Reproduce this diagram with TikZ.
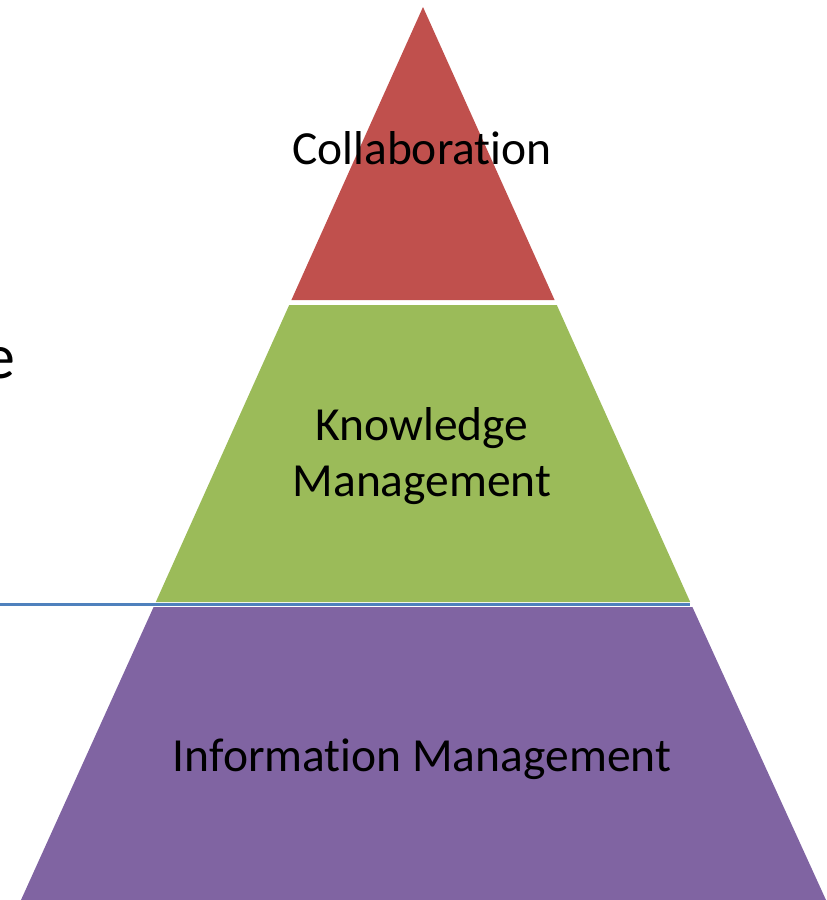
\documentclass[tikz,border=0pt]{standalone}
\usepackage{fontspec}
\setmainfont{Carlito}[Ligatures=NoCommon]
\usetikzlibrary{calc,positioning}
\definecolor{tierred}{HTML}{C0504D}
\definecolor{tiergreen}{HTML}{9BBB59}
\definecolor{tierpurple}{HTML}{8064A2}
\definecolor{lineblue}{HTML}{4F81BD}

\begin{document}
\begin{tikzpicture}[x=1pt,y=-1pt]

\tikzset{tier/.style={draw=none},
tiertext/.style={font=\fontsize{47.5}{56}\selectfont,align=center,text=black,inner sep=0pt},
bigtext/.style={font=\fontsize{64}{76}\selectfont,text=black,inner sep=0pt}}

\useasboundingbox (0,0) rectangle (827,900);
\clip (0,0) rectangle (827,900);

% Corners of the tiers
\coordinate (apex) at (423,7);
\coordinate (r1) at (554.6,300); \coordinate (l1) at (291.4,300);
\coordinate (l2) at (289.2,305); \coordinate (r2) at (556.8,305);
\coordinate (r3) at (690.2,602); \coordinate (l3) at (155.8,602);
\coordinate (l4) at (153.6,607); \coordinate (r4) at (692.4,607);
\coordinate (r5) at (826,900); \coordinate (l5) at (21,900);

% Tiers
\fill[tier,tierred] (apex) -- (r1) -- (l1) -- cycle;
\fill[tier,tiergreen] (l2) -- (r2) -- (r3) -- (l3) -- cycle;
\fill[tier,tierpurple] (l4) -- (r4) -- (r5) -- (l5) -- cycle;

% Line across
\coordinate (lineL) at (0,604.5);
\coordinate (lineR) at (690,604.5);
\draw[lineblue,line width=2.4pt] (lineL) -- (lineR);

% Labels
\node[tiertext,anchor=base] (collab) at (422,164) {Collaboration};
\node[tiertext,anchor=base] (know) at (422,440) {Knowledge};
\node[tiertext,anchor=base] (knowman) at (422,496) {Management};
\node[tiertext,anchor=base] (infoman) at (422,771) {Information Management};
\node[bigtext,anchor=base east] (cut) at (16,378) {e};

\end{tikzpicture}
\end{document}
